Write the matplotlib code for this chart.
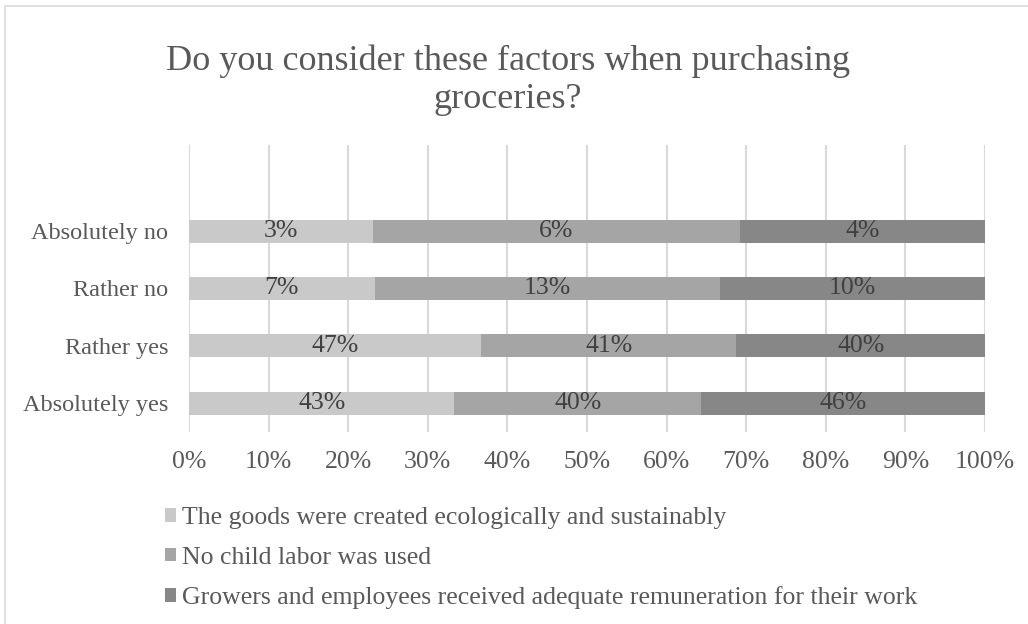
import numpy as np
import matplotlib
matplotlib.use("Agg")
import matplotlib.pyplot as plt
from matplotlib.patches import Rectangle

# Data (bottom to top on the chart)
categories = ["Absolutely yes", "Rather yes", "Rather no", "Absolutely no"]
series_names = [
    "The goods were created ecologically and sustainably",
    "No child labor was used",
    "Growers and employees received adequate remuneration for their work",
]
ecological = [43, 47, 7, 3]
child_labor = [40, 41, 13, 6]
remuneration = [46, 40, 10, 4]

colors = ["#c9c9c9", "#a5a5a5", "#878787"]
text_color = "#595959"
label_color = "#404040"

plt.rcParams["font.family"] = ["Liberation Serif", "DejaVu Serif"]

fig = plt.figure(figsize=(10.28, 6.24), dpi=100)
fig.patch.set_facecolor("white")

# chart frame
fig.patches.append(Rectangle((5 / 1028, -0.1), 1.2, (624 - 6) / 624 + 0.1,
                             transform=fig.transFigure, fill=False,
                             edgecolor="#d9d9d9", linewidth=1.2))

ax = fig.add_axes([189 / 1028, (624 - 432) / 624, 796 / 1028, 287 / 624])

values = np.array([ecological, child_labor, remuneration], dtype=float)
totals = values.sum(axis=0)
shares = values / totals

y = np.arange(len(categories))
left = np.zeros(len(categories))
for i, name in enumerate(series_names):
    ax.barh(y, shares[i], left=left, height=0.4, color=colors[i],
            label=name, zorder=3)
    for j in range(len(categories)):
        ax.text(left[j] + shares[i][j] / 2, y[j], f"{int(values[i][j])}%",
                ha="center", va="center", fontsize=18.5, color=label_color,
                zorder=4)
    left += shares[i]

ax.set_xlim(0, 1)
ax.set_ylim(-0.5, 4.5)
ax.set_xticks(np.linspace(0, 1, 11))
ax.set_xticklabels([f"{p}%" for p in range(0, 101, 10)], fontsize=18.5,
                   color=text_color)
ax.set_yticks(y)
ax.set_yticklabels(categories, fontsize=17.5, color=text_color)
ax.tick_params(axis="x", length=0, pad=14)
ax.tick_params(axis="y", length=0, pad=15)
ax.grid(axis="x", color="#d9d9d9", linewidth=1.5, zorder=0)
for s in ax.spines.values():
    s.set_visible(False)

fig.text(0.494, 1 - 80 / 624, "Do you consider these factors when purchasing\ngroceries?",
         ha="center", va="center", fontsize=26, color=text_color,
         linespacing=1.2)

ax.legend(loc="upper left", bbox_to_anchor=(155 / 1028, 1 - 497 / 624),
          bbox_transform=fig.transFigure, frameon=False, fontsize=18.5,
          handlelength=0.42, handleheight=0.42, handletextpad=0.25,
          labelspacing=0.68, borderaxespad=0, labelcolor=text_color)

fig.savefig("out.png", dpi=100)
